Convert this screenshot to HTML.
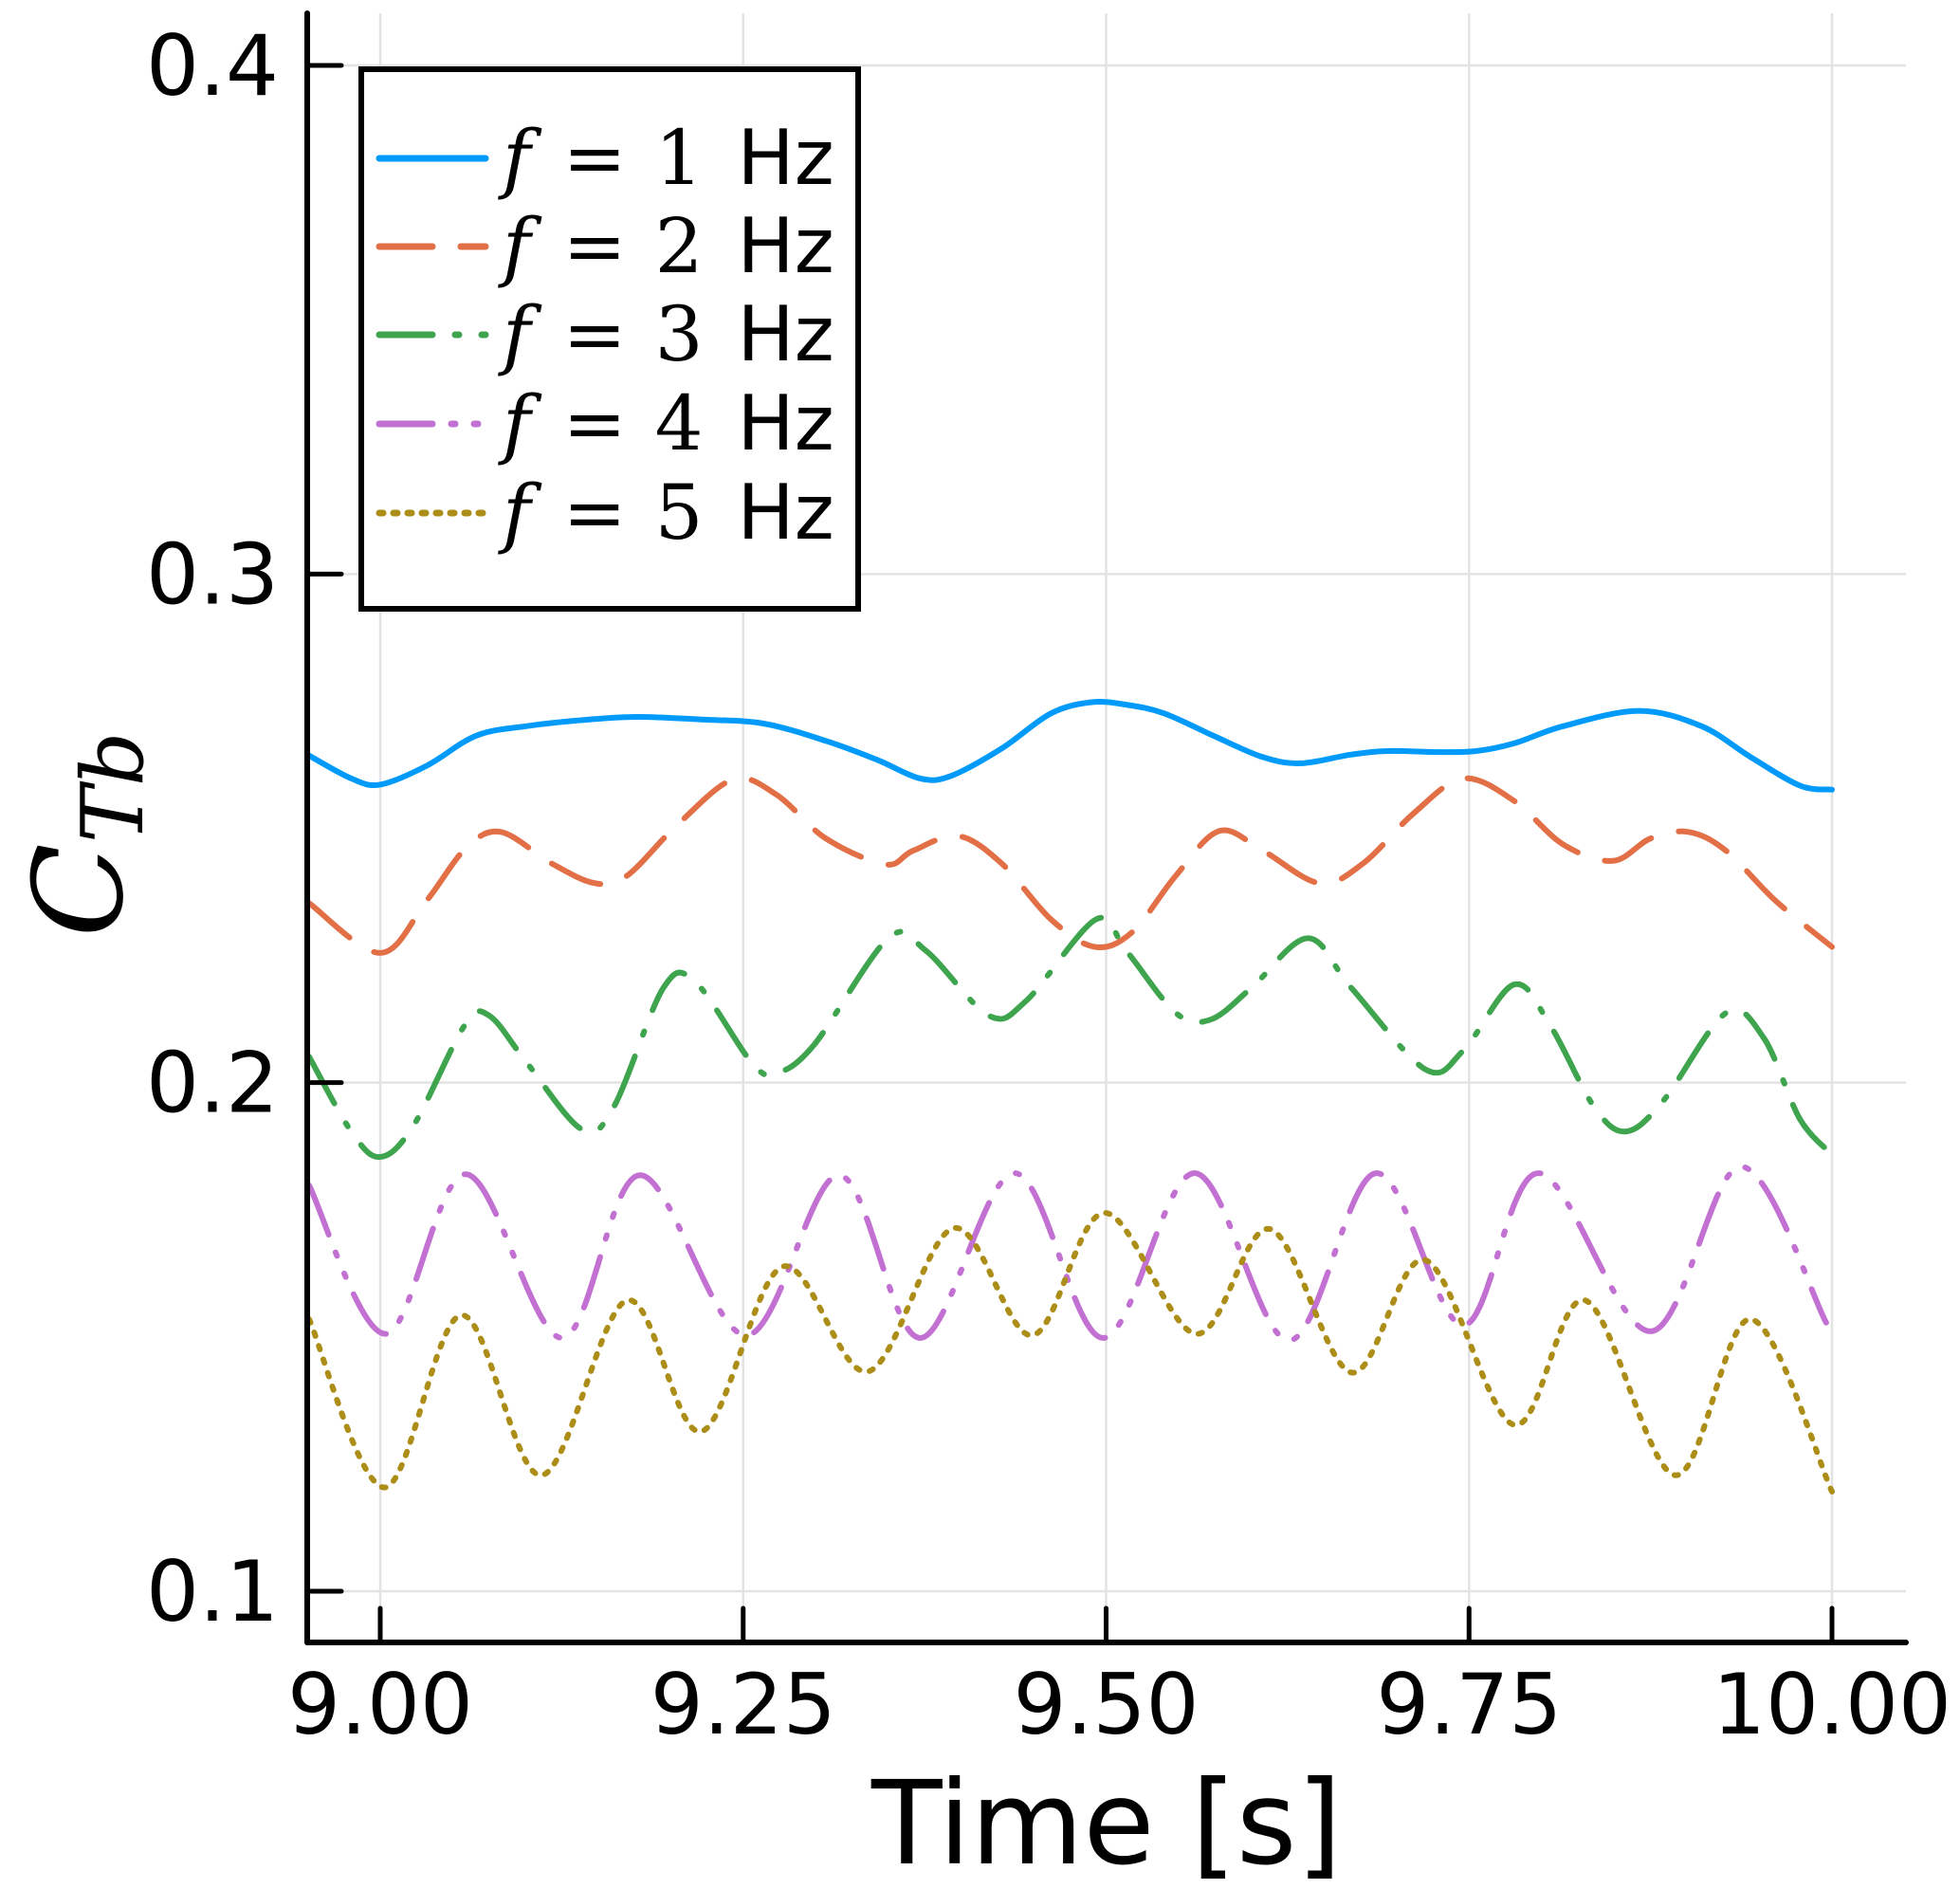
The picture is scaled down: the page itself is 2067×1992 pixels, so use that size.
<!DOCTYPE html>
<html><head><meta charset="utf-8"><style>
html,body{margin:0;padding:0;background:#fff;}
svg{display:block;}
</style></head><body>
<svg id="chart" width="2067" height="1992" viewBox="0 0 2067 1992" xmlns="http://www.w3.org/2000/svg">
<rect width="2067" height="1992" fill="#fff"/>
<g id="grid"></g>
<g id="series"></g>
<g id="axes"></g>
<g id="legend"></g>
<text x="1167" y="1965" font-family="'DejaVu Sans','Liberation Sans',sans-serif" font-size="122" text-anchor="middle">Time [s]</text>
<g transform="translate(128,880) rotate(-90)">
<text x="0" y="0" text-anchor="middle" font-family="'DejaVu Serif','Liberation Serif',serif" font-style="italic" font-size="130">C<tspan font-size="90" dy="22">Tb</tspan></text>
</g>
</svg>
<script>
const xTicks = [9.00, 9.25, 9.50, 9.75, 10.00];
const xTickLabels = ["9.00", "9.25", "9.50", "9.75", "10.00"];
const yTicks = [0.1, 0.2, 0.3, 0.4];
const yTickLabels = ["0.1", "0.2", "0.3", "0.4"];
const seriesNames = ["f = 1 Hz", "f = 2 Hz", "f = 3 Hz", "f = 4 Hz", "f = 5 Hz"];
const seriesFreq = ["1", "2", "3", "4", "5"];

const t1 = [8.951,8.980,9.000,9.032,9.066,9.101,9.144,9.178,9.221,9.264,9.307,9.342,9.372,9.393,9.428,9.462,9.490,9.514,9.540,9.574,9.608,9.634,9.669,9.694,9.729,9.755,9.781,9.815,9.867,9.910,9.944,9.978,10.000];
const v1 = [0.2643,0.2598,0.2586,0.2623,0.2682,0.2701,0.2714,0.2719,0.2714,0.2706,0.2672,0.2635,0.2598,0.2603,0.2657,0.2726,0.2748,0.2743,0.2726,0.2682,0.2640,0.2628,0.2645,0.2652,0.2650,0.2652,0.2667,0.2701,0.2731,0.2701,0.2640,0.2584,0.2576];

const t2 = [8.951,9.000,9.032,9.059,9.083,9.118,9.148,9.170,9.204,9.243,9.273,9.307,9.348,9.367,9.398,9.428,9.462,9.492,9.518,9.548,9.578,9.608,9.647,9.677,9.712,9.746,9.781,9.815,9.849,9.875,9.901,9.927,9.961,10.000];
const v2 = [0.2353,0.2255,0.2358,0.2461,0.2493,0.2431,0.2392,0.2407,0.2505,0.2596,0.2566,0.2480,0.2429,0.2456,0.2485,0.2431,0.2321,0.2267,0.2296,0.2407,0.2495,0.2456,0.2392,0.2431,0.2530,0.2598,0.2554,0.2468,0.2436,0.2480,0.2493,0.2456,0.2358,0.2267];

const t3 = [8.951,8.980,9.000,9.023,9.058,9.075,9.101,9.139,9.161,9.195,9.217,9.256,9.273,9.299,9.350,9.376,9.419,9.445,9.493,9.514,9.548,9.572,9.600,9.639,9.669,9.720,9.746,9.781,9.806,9.836,9.858,9.884,9.927,9.953,9.978,10.000];
const v3 = [0.2051,0.1904,0.1854,0.1916,0.2112,0.2132,0.2039,0.1908,0.1953,0.2186,0.2198,0.2039,0.2019,0.2075,0.2284,0.2259,0.2132,0.2161,0.2321,0.2259,0.2137,0.2124,0.2186,0.2284,0.2186,0.2026,0.2063,0.2193,0.2112,0.1953,0.1904,0.1965,0.2137,0.2088,0.1928,0.1859];

const t4 = [8.951,9.004,9.059,9.125,9.179,9.252,9.316,9.372,9.437,9.498,9.561,9.626,9.686,9.746,9.798,9.875,9.937,9.996];
const v4 = [0.1798,0.1506,0.1820,0.1498,0.1818,0.1503,0.1818,0.1498,0.1822,0.1498,0.1822,0.1493,0.1822,0.1523,0.1822,0.1511,0.1835,0.1528];

const t5 = [8.951,9.003,9.056,9.111,9.170,9.221,9.277,9.336,9.395,9.449,9.499,9.562,9.613,9.669,9.720,9.781,9.830,9.892,9.944,10.000];
const v5 = [0.1535,0.1204,0.1543,0.1228,0.1572,0.1314,0.1638,0.1432,0.1714,0.1503,0.1744,0.1506,0.1712,0.1430,0.1651,0.1327,0.1572,0.1228,0.1535,0.1196];

const NS = "http://www.w3.org/2000/svg";
const PL = 324, PR = 2010, PT = 14, PB = 1732;
function xs(t){ return 401 + (t - 9.0) * 1531; }
function ys(v){ return 1678 - (v - 0.1) * 5363.3; }
function mk(tag, attrs, parent){ const e = document.createElementNS(NS, tag); for (const k in attrs) e.setAttribute(k, attrs[k]); parent.appendChild(e); return e; }

const grid = document.getElementById('grid');
xTicks.forEach(function(t){
  const l = mk('line', {x1: xs(t), x2: xs(t), y1: PT, y2: PB, stroke: '#e3e3e3', 'stroke-width': 2.5}, grid);
  
  
});
yTicks.forEach(function(v){
  const l = mk('line', {x1: PL, x2: PR, y1: ys(v), y2: ys(v), stroke: '#e3e3e3', 'stroke-width': 2.5}, grid);
  
  
});

function smoothPath(ts, vs){
  const p = ts.map(function(t, i){ return [xs(t), ys(vs[i])]; });
  let d = 'M' + p[0][0].toFixed(1) + ' ' + p[0][1].toFixed(1);
  for (let i = 0; i < p.length - 1; i++){
    const p0 = p[Math.max(0, i - 1)], p1 = p[i], p2 = p[i + 1], p3 = p[Math.min(p.length - 1, i + 2)];
    const c1x = p1[0] + (p2[0] - p0[0]) / 6, c1y = p1[1] + (p2[1] - p0[1]) / 6;
    const c2x = p2[0] - (p3[0] - p1[0]) / 6, c2y = p2[1] - (p3[1] - p1[1]) / 6;
    d += ' C' + c1x.toFixed(1) + ' ' + c1y.toFixed(1) + ' ' + c2x.toFixed(1) + ' ' + c2y.toFixed(1) + ' ' + p2[0].toFixed(1) + ' ' + p2[1].toFixed(1);
  }
  return d;
}

const colors = ['#009AFA', '#E26F46', '#3EA44E', '#C271D2', '#AC8D18'];
const dashes = ['none', '56 30', '56 24 4 24', '56 20 4 20 4 20', '4 11'];
const allT = [t1, t2, t3, t4, t5];
const allV = [v1, v2, v3, v4, v5];
const series = document.getElementById('series');
for (let i = 0; i < 5; i++){
  const path = mk('path', {d: smoothPath(allT[i], allV[i]), fill: 'none', stroke: colors[i], 'stroke-width': 6, 'stroke-linecap': 'round', 'stroke-linejoin': 'round', 'stroke-dasharray': dashes[i]}, series);
  
  
}

const axes = document.getElementById('axes');
const ya = mk('line', {x1: PL, x2: PL, y1: PT, y2: PB, stroke: '#000', 'stroke-width': 6, 'stroke-linecap': 'round'}, axes);


const xa = mk('line', {x1: PL, x2: PR, y1: PB, y2: PB, stroke: '#000', 'stroke-width': 6, 'stroke-linecap': 'round'}, axes);


xTicks.forEach(function(t, i){
  const tk = mk('line', {x1: xs(t), x2: xs(t), y1: PB, y2: PB - 36, stroke: '#000', 'stroke-width': 5, 'stroke-linecap': 'round'}, axes);
  
  
  const tx = mk('text', {x: xs(t), y: 1828, 'text-anchor': 'middle', 'font-family': "'DejaVu Sans','Liberation Sans',sans-serif", 'font-size': 88}, axes);
  tx.textContent = xTickLabels[i];
  
  
});
yTicks.forEach(function(v, i){
  const tk = mk('line', {x1: PL, x2: PL + 36, y1: ys(v), y2: ys(v), stroke: '#000', 'stroke-width': 5, 'stroke-linecap': 'round'}, axes);
  
  
  const tx = mk('text', {x: 294, y: ys(v) + 31, 'text-anchor': 'end', 'font-family': "'DejaVu Sans','Liberation Sans',sans-serif", 'font-size': 88}, axes);
  tx.textContent = yTickLabels[i];
  
  
});

const legend = document.getElementById('legend');
const box = mk('rect', {x: 381, y: 73, width: 524, height: 569, fill: '#fff', stroke: '#000', 'stroke-width': 6}, legend);


const legY = [167, 260, 353, 447, 541];
for (let i = 0; i < 5; i++){
  const g = mk('g', {}, legend);
  
  
  mk('line', {x1: 400, x2: 512, y1: legY[i], y2: legY[i], stroke: colors[i], 'stroke-width': 7, 'stroke-linecap': 'round', 'stroke-dasharray': dashes[i]}, g);
  const tx = mk('text', {x: 530, y: legY[i] + 27, 'font-size': 80, 'font-family': "'DejaVu Serif','Liberation Serif',serif"}, g);
  const f = mk('tspan', {'font-style': 'italic'}, tx); f.textContent = 'f';
  const eq = mk('tspan', {dx: 34}, tx); eq.textContent = '=';
  const n = mk('tspan', {dx: 30}, tx); n.textContent = seriesFreq[i];
  const hz = mk('tspan', {dx: 36, 'font-family': "'DejaVu Sans','Liberation Sans',sans-serif"}, tx); hz.textContent = 'Hz';
  
  
}
</script>
</body></html>
